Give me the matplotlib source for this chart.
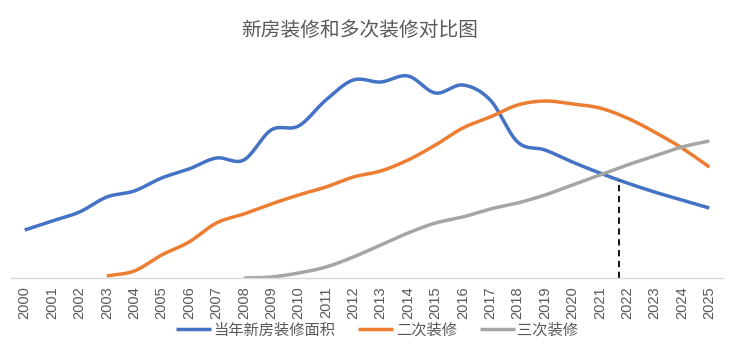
import numpy as np
import matplotlib
matplotlib.use("Agg")
import matplotlib.pyplot as plt

years = [str(y) for y in range(2000, 2026)]
new_house = [48, 57, 66, 81, 87, 100, 109, 120, 118, 148, 152, 178, 198, 196, 202,
             185, 193, 178, 136, 128, 116, 105, 95, 86, 78, 70]
second_start = 2003
second = [2, 7, 23, 36, 55, 64, 74, 83, 91, 101, 107, 118, 133, 150, 161, 173,
          177, 174, 170, 160, 146, 130, 111]
third_start = 2008
third = [0, 1, 5, 11, 21, 33, 45, 55, 61, 69, 75, 83, 93, 103, 113, 122, 131, 137]
marker_year = 2021.7

series_names = ["当年新房装修面积", "二次装修", "三次装修"]
colors = ["#4472C4", "#ED7D31", "#A5A5A5"]


def smooth(x, y, n=30):
    x = np.asarray(x, float)
    y = np.asarray(y, float)
    if len(x) < 3:
        return x, y
    px = np.concatenate([[2 * x[0] - x[1]], x, [2 * x[-1] - x[-2]]])
    py = np.concatenate([[2 * y[0] - y[1]], y, [2 * y[-1] - y[-2]]])
    xs, ys = [], []
    for i in range(1, len(px) - 2):
        t = np.linspace(0, 1, n, endpoint=False)
        p0, p1, p2, p3 = py[i - 1], py[i], py[i + 1], py[i + 2]
        q0, q1, q2, q3 = px[i - 1], px[i], px[i + 1], px[i + 2]
        c1y = p1 + (p2 - p0) / 6
        c2y = p2 - (p3 - p1) / 6
        c1x = q1 + (q2 - q0) / 6
        c2x = q2 - (q3 - q1) / 6
        b = lambda a, c1, c2, d: ((1 - t) ** 3 * a + 3 * (1 - t) ** 2 * t * c1
                                  + 3 * (1 - t) * t ** 2 * c2 + t ** 3 * d)
        xs.append(b(q1, c1x, c2x, q2))
        ys.append(b(p1, c1y, c2y, p2))
    xs.append([x[-1]])
    ys.append([y[-1]])
    return np.concatenate(xs), np.concatenate(ys)


plt.rcParams['font.family'] = ['Noto Sans CJK SC', 'DejaVu Sans']

fig = plt.figure(figsize=(7.4, 3.54), dpi=100)
ax = fig.add_axes([11 / 740, 1 - 278 / 354, 712 / 740, 210 / 354])

idx0 = np.arange(len(years))
x1 = np.arange(len(new_house))
x2 = np.arange(len(second)) + (second_start - 2000)
x3 = np.arange(len(third)) + (third_start - 2000)

handles = []
for xv, yv, c, name in [(x1, new_house, colors[0], series_names[0]),
                        (x2, second, colors[1], series_names[1]),
                        (x3, third, colors[2], series_names[2])]:
    sx, sy = smooth(xv, yv)
    h, = ax.plot(sx, sy, color=c, lw=2.5, solid_capstyle='butt', label=name)
    handles.append(h)

bx, by = smooth(x1, new_house)
mx = marker_year - 2000
top = np.interp(mx, bx, by)
ax.plot([mx, mx], [0, top], color='black', lw=1.3, ls=(0, (3.5, 2.5)))

ax.set_xlim(-0.5, len(years) - 0.5)
ax.set_ylim(0, 210)
ax.set_xticks(idx0)
ax.set_xticklabels(years, rotation=90, family=['Liberation Sans', 'DejaVu Sans'],
                   fontsize=10.5, color='#595959')
ax.tick_params(axis='x', length=0, pad=6)
ax.set_yticks([])
for s in ['top', 'right', 'left']:
    ax.spines[s].set_visible(False)
ax.spines['bottom'].set_color('#D9D9D9')
ax.spines['bottom'].set_linewidth(1.0)

fig.text(360 / 740, 1 - 30 / 354, "新房装修和多次装修对比图", ha='center', va='center',
         fontsize=14.2, color='#595959')

fig.legend(handles=handles, labels=series_names, loc='center',
           bbox_to_anchor=(377 / 740, 1 - 330 / 354), ncol=3, frameon=False,
           fontsize=11, handlelength=2.3, handletextpad=0.15,
           columnspacing=1.5, labelcolor='#595959')

fig.savefig("out.png", dpi=100)
